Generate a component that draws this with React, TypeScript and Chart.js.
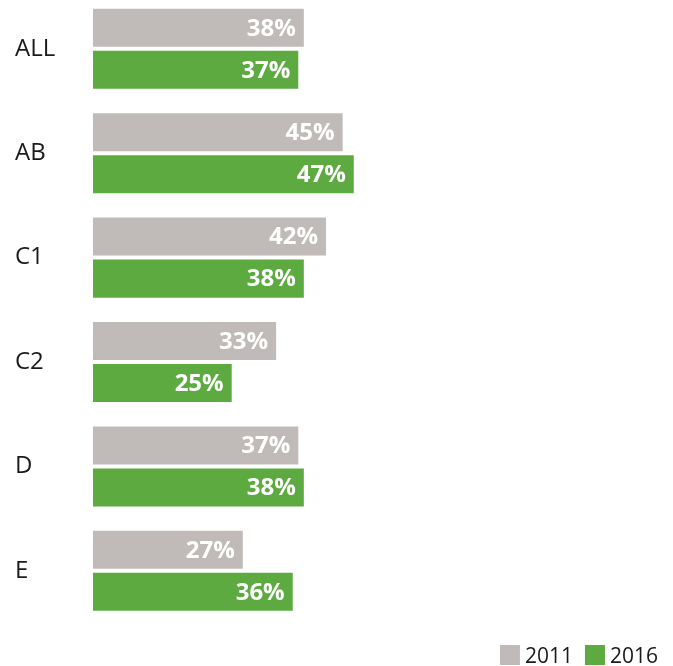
import React, { useEffect, useRef } from "react";
import { Chart, registerables } from "chart.js";

Chart.register(...registerables);

const categories = ["ALL", "AB", "C1", "C2", "D", "E"];
const values2011 = [38, 45, 42, 33, 37, 27];
const values2016 = [37, 47, 38, 25, 38, 36];
const seriesNames = ["2011", "2016"];
const colors = ["#C0BBB8", "#5DAA41"];

const valueLabels = {
  id: "valueLabels",
  afterDatasetsDraw(chart: any) {
    const ctx = chart.ctx;
    ctx.save();
    ctx.fillStyle = "#ffffff";
    ctx.font = "bold 24px 'Open Sans'";
    ctx.textAlign = "right";
    ctx.textBaseline = "middle";
    chart.data.datasets.forEach((ds: any, i: number) => {
      const meta = chart.getDatasetMeta(i);
      meta.data.forEach((bar: any, j: number) => {
        ctx.fillText(ds.data[j] + "%", bar.x - 8, bar.y + 1);
      });
    });
    ctx.restore();
  },
};

const bottomLegend = {
  id: "bottomLegend",
  afterDraw(chart: any) {
    const ctx = chart.ctx;
    ctx.save();
    ctx.font = "21px 'Open Sans'";
    ctx.textBaseline = "alphabetic";
    ctx.textAlign = "left";
    const boxSize = 20;
    const boxGap = 5;
    const itemGap = 12;
    const rightEdge = 658;
    const boxTop = 649;
    const baseline = 667;
    const items = chart.data.datasets.map((ds: any) => ({
      text: ds.label,
      color: ds.backgroundColor,
      w: ctx.measureText(ds.label).width,
    }));
    let x = rightEdge;
    for (let i = items.length - 1; i >= 0; i--) {
      const it = items[i];
      const tx = x - it.w;
      const bx = tx - boxGap - boxSize;
      ctx.fillStyle = it.color;
      ctx.fillRect(bx, boxTop, boxSize, boxSize);
      ctx.fillStyle = "#1a1a1a";
      ctx.fillText(it.text, tx, baseline);
      x = bx - itemGap;
    }
    ctx.restore();
  },
};

export default function App() {
  const ref = useRef<HTMLCanvasElement>(null);
  useEffect(() => {
    if (!ref.current) return;
    const chart = new Chart(ref.current, {
      type: "bar",
      data: {
        labels: categories,
        datasets: [
          { label: seriesNames[0], data: values2011, backgroundColor: colors[0] },
          { label: seriesNames[1], data: values2016, backgroundColor: colors[1] },
        ],
      },
      options: {
        indexAxis: "y",
        animation: false,
        responsive: false,
        maintainAspectRatio: false,
        datasets: { bar: { categoryPercentage: 0.805, barPercentage: 0.905 } },
        layout: { padding: { left: 15, right: 3, top: 0.6, bottom: 43 } },
        scales: {
          x: { display: false, min: 0, max: 104 },
          y: {
            grid: { display: false, drawTicks: false },
            border: { display: false },
            ticks: {
              crossAlign: "far",
              color: "#1a1a1a",
              font: { family: "'Open Sans'", size: 24 },
            },
            afterFit: (scale: any) => {
              scale.width = 78;
              scale.paddingTop = 0;
              scale.paddingBottom = 0;
            },
          },
        },
        plugins: {
          tooltip: { enabled: false },
          legend: { display: false },
        },
      },
      plugins: [valueLabels, bottomLegend],
    });
    return () => chart.destroy();
  }, []);
  return (
    <div style={{ position: "absolute", left: 0, top: -4, width: 673, height: 670 }}>
      <canvas ref={ref} width={673} height={670} style={{ width: 673, height: 670 }} />
    </div>
  );
}
